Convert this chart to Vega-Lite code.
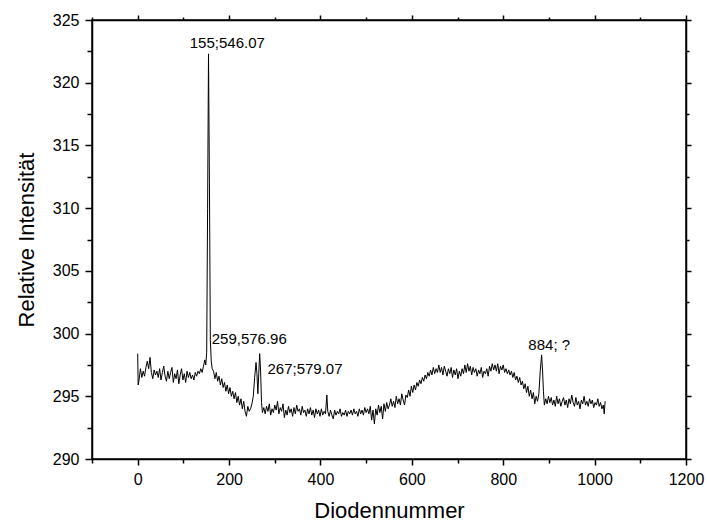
{
  "$schema": "https://vega.github.io/schema/vega-lite/v6.json",
  "autosize": {"type": "none"},
  "padding": {"left": 92, "top": 20, "right": 21, "bottom": 65},
  "width": 594,
  "height": 439,
  "background": "white",
  "config": {
    "view": {"stroke": "black", "strokeWidth": 1.5},
    "font": "Liberation Sans",
    "axis": {"domainColor": "black", "domainWidth": 1.5, "tickColor": "black", "tickWidth": 1.5, "labelColor": "black", "titleColor": "black", "labelFont": "Liberation Sans", "titleFont": "Liberation Sans", "labelFontSize": 16, "titleFontSize": 22, "titleFontWeight": "normal", "grid": false}
  },
  "datasets": {
    "spec": [
      {"d":0,"v":298.4},{"d":1,"v":295.9},{"d":3,"v":296.3},{"d":6,"v":297.2},{"d":9,"v":296.5},{"d":12,"v":297.0},{"d":15,"v":296.6},{"d":18,"v":297.3},{"d":21,"v":297.8},{"d":24,"v":297.2},{"d":27,"v":298.1},{"d":30,"v":296.9},{"d":33,"v":296.4},{"d":36,"v":297.1},{"d":39,"v":296.7},{"d":42,"v":297.0},{"d":45,"v":296.5},{"d":48,"v":297.2},{"d":51,"v":296.3},{"d":54,"v":296.9},{"d":57,"v":297.4},{"d":60,"v":296.6},{"d":63,"v":296.2},{"d":66,"v":297.0},{"d":69,"v":296.4},{"d":72,"v":296.9},{"d":75,"v":297.3},{"d":78,"v":296.1},{"d":81,"v":296.8},{"d":84,"v":296.4},{"d":87,"v":297.1},{"d":90,"v":296.0},{"d":93,"v":296.7},{"d":96,"v":297.2},{"d":99,"v":296.3},{"d":102,"v":296.8},{"d":105,"v":296.1},{"d":108,"v":297.0},{"d":111,"v":296.5},{"d":114,"v":296.9},{"d":117,"v":296.4},{"d":120,"v":296.7},{"d":123,"v":296.3},{"d":126,"v":296.9},{"d":129,"v":296.6},{"d":132,"v":297.0},{"d":135,"v":296.8},{"d":138,"v":297.2},{"d":141,"v":296.9},{"d":144,"v":297.4},{"d":147,"v":297.9},{"d":149,"v":297.5},{"d":151,"v":298.5},{"d":153,"v":310.0},{"d":155,"v":322.3},{"d":157,"v":312.0},{"d":159,"v":299.5},{"d":161,"v":297.8},{"d":163,"v":297.2},{"d":166,"v":297.0},{"d":169,"v":296.4},{"d":172,"v":296.9},{"d":175,"v":296.2},{"d":178,"v":296.6},{"d":181,"v":295.9},{"d":184,"v":296.4},{"d":187,"v":295.7},{"d":190,"v":296.1},{"d":193,"v":295.4},{"d":196,"v":295.9},{"d":199,"v":295.2},{"d":202,"v":295.7},{"d":205,"v":295.0},{"d":208,"v":295.4},{"d":211,"v":294.8},{"d":214,"v":295.3},{"d":217,"v":294.5},{"d":220,"v":295.0},{"d":223,"v":294.3},{"d":226,"v":294.8},{"d":229,"v":294.0},{"d":232,"v":294.6},{"d":235,"v":293.8},{"d":238,"v":293.4},{"d":241,"v":294.2},{"d":244,"v":293.8},{"d":247,"v":294.0},{"d":250,"v":294.4},{"d":253,"v":295.0},{"d":256,"v":296.5},{"d":259,"v":297.7},{"d":261,"v":296.8},{"d":263,"v":295.2},{"d":265,"v":296.8},{"d":267,"v":298.4},{"d":269,"v":297.0},{"d":271,"v":294.5},{"d":273,"v":293.7},{"d":276,"v":294.1},{"d":279,"v":293.6},{"d":282,"v":294.2},{"d":285,"v":293.8},{"d":288,"v":294.4},{"d":291,"v":293.5},{"d":294,"v":294.0},{"d":297,"v":293.7},{"d":300,"v":294.3},{"d":303,"v":293.9},{"d":306,"v":294.6},{"d":309,"v":293.6},{"d":312,"v":294.1},{"d":315,"v":293.8},{"d":318,"v":294.4},{"d":321,"v":293.3},{"d":324,"v":293.9},{"d":327,"v":293.5},{"d":330,"v":294.2},{"d":333,"v":293.7},{"d":336,"v":294.0},{"d":339,"v":293.4},{"d":342,"v":294.1},{"d":345,"v":293.6},{"d":348,"v":294.3},{"d":351,"v":293.8},{"d":354,"v":294.0},{"d":357,"v":293.5},{"d":360,"v":294.2},{"d":363,"v":293.7},{"d":366,"v":293.9},{"d":369,"v":293.4},{"d":372,"v":294.0},{"d":375,"v":293.6},{"d":378,"v":294.1},{"d":381,"v":293.5},{"d":384,"v":293.9},{"d":387,"v":293.3},{"d":390,"v":294.0},{"d":393,"v":293.6},{"d":396,"v":293.9},{"d":399,"v":293.4},{"d":402,"v":294.0},{"d":405,"v":293.5},{"d":408,"v":293.8},{"d":411,"v":293.6},{"d":414,"v":295.1},{"d":416,"v":293.8},{"d":419,"v":293.4},{"d":422,"v":293.9},{"d":425,"v":293.5},{"d":428,"v":293.2},{"d":431,"v":293.9},{"d":434,"v":293.5},{"d":437,"v":293.8},{"d":440,"v":293.6},{"d":443,"v":294.0},{"d":446,"v":293.4},{"d":449,"v":293.7},{"d":452,"v":293.5},{"d":455,"v":293.9},{"d":458,"v":293.4},{"d":461,"v":293.8},{"d":464,"v":293.6},{"d":467,"v":293.9},{"d":470,"v":293.5},{"d":473,"v":294.0},{"d":476,"v":293.6},{"d":479,"v":293.8},{"d":482,"v":293.4},{"d":485,"v":294.0},{"d":488,"v":293.6},{"d":491,"v":293.9},{"d":494,"v":293.5},{"d":497,"v":294.1},{"d":500,"v":293.7},{"d":503,"v":294.0},{"d":506,"v":293.6},{"d":509,"v":294.2},{"d":512,"v":293.1},{"d":515,"v":293.9},{"d":518,"v":292.8},{"d":521,"v":294.0},{"d":524,"v":293.5},{"d":527,"v":294.3},{"d":530,"v":293.7},{"d":533,"v":294.2},{"d":536,"v":293.2},{"d":539,"v":294.4},{"d":542,"v":293.8},{"d":545,"v":294.5},{"d":548,"v":294.0},{"d":551,"v":294.3},{"d":554,"v":294.8},{"d":557,"v":294.2},{"d":560,"v":294.6},{"d":563,"v":294.1},{"d":566,"v":295.0},{"d":569,"v":294.4},{"d":572,"v":294.8},{"d":575,"v":294.3},{"d":578,"v":295.2},{"d":581,"v":294.7},{"d":584,"v":294.3},{"d":587,"v":295.1},{"d":590,"v":294.9},{"d":593,"v":295.5},{"d":596,"v":295.0},{"d":599,"v":295.8},{"d":602,"v":295.3},{"d":605,"v":295.9},{"d":608,"v":295.5},{"d":611,"v":296.1},{"d":614,"v":295.8},{"d":617,"v":296.3},{"d":620,"v":296.0},{"d":623,"v":296.5},{"d":626,"v":296.2},{"d":629,"v":296.7},{"d":632,"v":296.4},{"d":635,"v":296.9},{"d":638,"v":296.6},{"d":641,"v":297.1},{"d":644,"v":296.7},{"d":647,"v":297.3},{"d":650,"v":296.8},{"d":653,"v":297.2},{"d":656,"v":296.9},{"d":659,"v":297.5},{"d":662,"v":296.9},{"d":665,"v":297.3},{"d":668,"v":296.7},{"d":671,"v":297.4},{"d":674,"v":297.0},{"d":677,"v":296.6},{"d":680,"v":297.2},{"d":683,"v":296.8},{"d":686,"v":297.3},{"d":689,"v":296.5},{"d":692,"v":297.1},{"d":695,"v":296.7},{"d":698,"v":297.2},{"d":701,"v":296.4},{"d":704,"v":297.0},{"d":707,"v":296.6},{"d":710,"v":297.2},{"d":713,"v":296.8},{"d":716,"v":297.5},{"d":719,"v":296.9},{"d":722,"v":297.6},{"d":725,"v":297.0},{"d":728,"v":297.4},{"d":731,"v":296.7},{"d":734,"v":297.3},{"d":737,"v":296.9},{"d":740,"v":297.2},{"d":743,"v":296.6},{"d":746,"v":297.1},{"d":749,"v":296.8},{"d":752,"v":297.3},{"d":755,"v":296.5},{"d":758,"v":297.0},{"d":761,"v":296.8},{"d":764,"v":297.2},{"d":767,"v":296.6},{"d":770,"v":297.4},{"d":773,"v":297.0},{"d":776,"v":297.6},{"d":779,"v":297.1},{"d":782,"v":297.5},{"d":785,"v":297.0},{"d":788,"v":297.6},{"d":791,"v":296.8},{"d":794,"v":297.4},{"d":797,"v":297.1},{"d":800,"v":297.5},{"d":803,"v":296.9},{"d":806,"v":297.2},{"d":809,"v":296.8},{"d":812,"v":297.1},{"d":815,"v":296.7},{"d":818,"v":297.0},{"d":821,"v":296.5},{"d":824,"v":296.9},{"d":827,"v":296.3},{"d":830,"v":296.6},{"d":833,"v":296.1},{"d":836,"v":296.5},{"d":839,"v":295.9},{"d":842,"v":296.2},{"d":845,"v":295.6},{"d":848,"v":296.0},{"d":851,"v":295.3},{"d":854,"v":295.8},{"d":857,"v":295.0},{"d":860,"v":295.5},{"d":863,"v":294.8},{"d":866,"v":295.3},{"d":869,"v":294.4},{"d":872,"v":295.0},{"d":875,"v":294.6},{"d":878,"v":295.2},{"d":881,"v":297.0},{"d":884,"v":298.3},{"d":886,"v":297.1},{"d":888,"v":295.4},{"d":890,"v":294.3},{"d":893,"v":294.8},{"d":896,"v":294.4},{"d":899,"v":295.0},{"d":902,"v":294.5},{"d":905,"v":294.9},{"d":908,"v":294.3},{"d":911,"v":294.7},{"d":914,"v":294.2},{"d":917,"v":295.0},{"d":920,"v":294.4},{"d":923,"v":294.8},{"d":926,"v":294.2},{"d":929,"v":294.6},{"d":932,"v":294.9},{"d":935,"v":294.3},{"d":938,"v":294.7},{"d":941,"v":294.1},{"d":944,"v":294.8},{"d":947,"v":294.4},{"d":950,"v":295.1},{"d":953,"v":294.5},{"d":956,"v":294.2},{"d":959,"v":294.9},{"d":962,"v":294.3},{"d":965,"v":294.6},{"d":968,"v":294.0},{"d":971,"v":294.7},{"d":974,"v":294.4},{"d":977,"v":295.0},{"d":980,"v":294.3},{"d":983,"v":294.6},{"d":986,"v":294.2},{"d":989,"v":294.8},{"d":992,"v":294.4},{"d":995,"v":294.7},{"d":998,"v":294.1},{"d":1001,"v":294.5},{"d":1004,"v":294.3},{"d":1007,"v":294.8},{"d":1010,"v":294.2},{"d":1013,"v":294.5},{"d":1016,"v":294.0},{"d":1019,"v":294.3},{"d":1021,"v":293.6},{"d":1023,"v":294.6}
    ],
    "labels": [
      {"d": 114, "v": 323.2, "t": "155;546.07"},
      {"d": 162, "v": 299.6, "t": "259,576.96"},
      {"d": 284, "v": 297.2, "t": "267;579.07"},
      {"d": 855, "v": 299.05, "t": "884; ?"}
    ]
  },
  "resolve": {"axis": {"x": "independent", "y": "independent"}},
  "layer": [
    {
      "data": {"name": "spec"},
      "mark": {"type": "line", "color": "black", "strokeWidth": 1, "clip": true},
      "encoding": {
        "x": {"field": "d", "type": "quantitative", "scale": {"domain": [-100, 1200], "nice": false, "zero": false},
          "axis": {"title": "Diodennummer", "orient": "bottom", "format": "d", "values": [-100,0,100,200,300,400,500,600,700,800,900,1000,1100,1200],
            "labelExpr": "datum.value % 200 == 0 ? datum.label : ''", "tickSize": {"condition": {"test": "datum.value % 200 != 0", "value": 4}, "value": 6}, "labelPadding": 6, "titlePadding": 13, "labelFlush": false, "labelOverlap": false}},
        "y": {"field": "v", "type": "quantitative", "scale": {"domain": [290, 325], "nice": false, "zero": false},
          "axis": {"title": "Relative Intensität", "orient": "left", "values": [290,292.5,295,297.5,300,302.5,305,307.5,310,312.5,315,317.5,320,322.5,325],
            "labelExpr": "datum.value % 5 == 0 ? datum.label : ''", "tickSize": {"condition": {"test": "datum.value % 5 != 0", "value": 5}, "value": 7}, "labelPadding": 6, "titlePadding": 14, "labelFlush": false, "labelOverlap": false}}
      }
    },
    {
      "data": {"name": "labels"},
      "mark": {"type": "text", "align": "left", "baseline": "middle", "font": "Liberation Sans", "fontSize": 15, "color": "black"},
      "encoding": {
        "x": {"field": "d", "type": "quantitative",
          "axis": {"title": null, "orient": "top", "labels": false, "values": [-100,0,100,200,300,400,500,600,700,800,900,1000,1100,1200], "tickSize": {"condition": {"test": "datum.value % 200 != 0", "value": 3}, "value": 5}}},
        "y": {"field": "v", "type": "quantitative",
          "axis": {"title": null, "orient": "right", "labels": false, "values": [290,292.5,295,297.5,300,302.5,305,307.5,310,312.5,315,317.5,320,322.5,325], "tickSize": {"condition": {"test": "datum.value % 5 != 0", "value": 3}, "value": 5}}},
        "text": {"field": "t", "type": "nominal"}
      }
    }
  ]
}
